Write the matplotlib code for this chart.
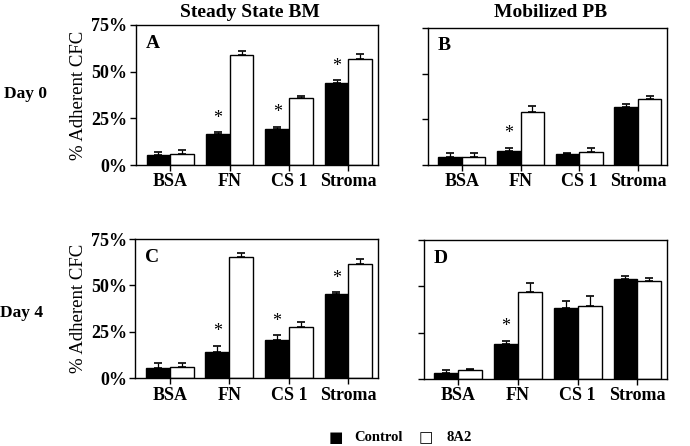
import numpy as np
import matplotlib.pyplot as plt

plt.rcParams['font.family'] = ['Liberation Serif', 'DejaVu Serif']

categories = ["BSA", "FN", "CS 1", "Stroma"]

# panel values (% adherent CFC) and upper error bar sizes
a_ctrl = [5.4, 16.4, 19.1, 43.8]
a_ctrl_err = [1.6, 1.1, 1.3, 1.6]
a_8a2 = [6.0, 59.0, 35.7, 56.6]
a_8a2_err = [2.0, 2.0, 1.4, 2.7]

b_ctrl = [4.5, 7.7, 5.8, 31.9]
b_ctrl_err = [2.2, 1.8, 0.9, 1.5]
b_8a2 = [4.5, 28.8, 7.3, 36.1]
b_8a2_err = [2.2, 3.5, 2.2, 1.7]

c_ctrl = [5.6, 14.0, 20.4, 45.3]
c_ctrl_err = [2.7, 3.5, 2.9, 1.2]
c_8a2 = [6.0, 65.2, 27.6, 61.6]
c_8a2_err = [2.3, 2.3, 2.7, 2.7]

d_ctrl = [3.4, 19.0, 38.2, 53.8]
d_ctrl_err = [1.6, 1.8, 4.0, 1.8]
d_8a2 = [4.7, 46.8, 39.3, 53.1]
d_8a2_err = [1.0, 5.2, 5.7, 1.3]

stars = {"A": [1, 2, 3], "B": [1], "C": [1, 2, 3], "D": [1]}

fig = plt.figure(figsize=(6.9, 4.46), dpi=100)

panels = [
    ("A", [0.197, 0.630, 0.351, 0.314], a_ctrl, a_ctrl_err, a_8a2, a_8a2_err, True),
    ("B", [0.620, 0.630, 0.347, 0.307], b_ctrl, b_ctrl_err, b_8a2, b_8a2_err, False),
    ("C", [0.196, 0.152, 0.352, 0.312], c_ctrl, c_ctrl_err, c_8a2, c_8a2_err, True),
    ("D", [0.614, 0.150, 0.353, 0.312], d_ctrl, d_ctrl_err, d_8a2, d_8a2_err, False),
]

x = np.arange(len(categories))
w = 0.4

for letter, pos, ctrl, ctrl_e, t, t_e, show_y in panels:
    ax = fig.add_axes(pos)
    ax.bar(x - w / 2, ctrl, w, color="black", edgecolor="black", linewidth=1)
    ax.bar(x + w / 2, t, w, color="white", edgecolor="black", linewidth=1)
    ax.errorbar(x - w / 2, ctrl, yerr=[np.zeros(4), ctrl_e], fmt="none",
                ecolor="black", elinewidth=0.9, capsize=2.6, capthick=1.2)
    ax.errorbar(x + w / 2, t, yerr=[np.zeros(4), t_e], fmt="none",
                ecolor="black", elinewidth=0.9, capsize=2.6, capthick=1.2)
    for i in stars[letter]:
        ax.text(x[i] - w / 2, ctrl[i] + ctrl_e[i] + 7.5, "*", ha="center",
                va="center", fontsize=13)
    ax.set_xlim(-0.58, 3.5)
    ax.set_ylim(0, 75)
    ax.set_xticks(x)
    ax.set_xticklabels(categories, fontsize=13, fontweight="bold")
    ax.set_yticks([0, 25, 50, 75])
    if show_y:
        ax.set_yticklabels(["0%", "25%", "50%", "75%"], fontsize=13,
                           fontweight="bold")
        ax.set_ylabel("% Adherent CFC", fontsize=13.5, labelpad=3)
    else:
        ax.set_yticklabels([])
    ax.tick_params(direction="out", length=4, width=1, pad=2)
    for s in ax.spines.values():
        s.set_linewidth(1)
    ax.text(0.04, 0.87, letter, transform=ax.transAxes, fontsize=14,
            fontweight="bold", va="center")

fig.text(0.362, 0.972, "Steady State BM", ha="center", va="center",
         fontsize=14, fontweight="bold")
fig.text(0.798, 0.972, "Mobilized PB", ha="center", va="center",
         fontsize=14, fontweight="bold")
fig.text(0.006, 0.79, "Day 0", ha="left", va="center", fontsize=12.5,
         fontweight="bold")
fig.text(0.0, 0.298, "Day 4", ha="left", va="center", fontsize=12.5,
         fontweight="bold")

# legend
fig.text(0.486, 0.018, "\u25A0", ha="center", va="center", fontsize=11,
         family=["DejaVu Sans"])
fig.text(0.514, 0.018, "Control", ha="left", va="center", fontsize=10.5,
         fontweight="bold")
fig.text(0.617, 0.018, "\u25A1", ha="center", va="center", fontsize=11,
         family=["DejaVu Sans"])
fig.text(0.647, 0.018, "8A2", ha="left", va="center", fontsize=10.5,
         fontweight="bold")

fig.savefig("out.png", dpi=100)
